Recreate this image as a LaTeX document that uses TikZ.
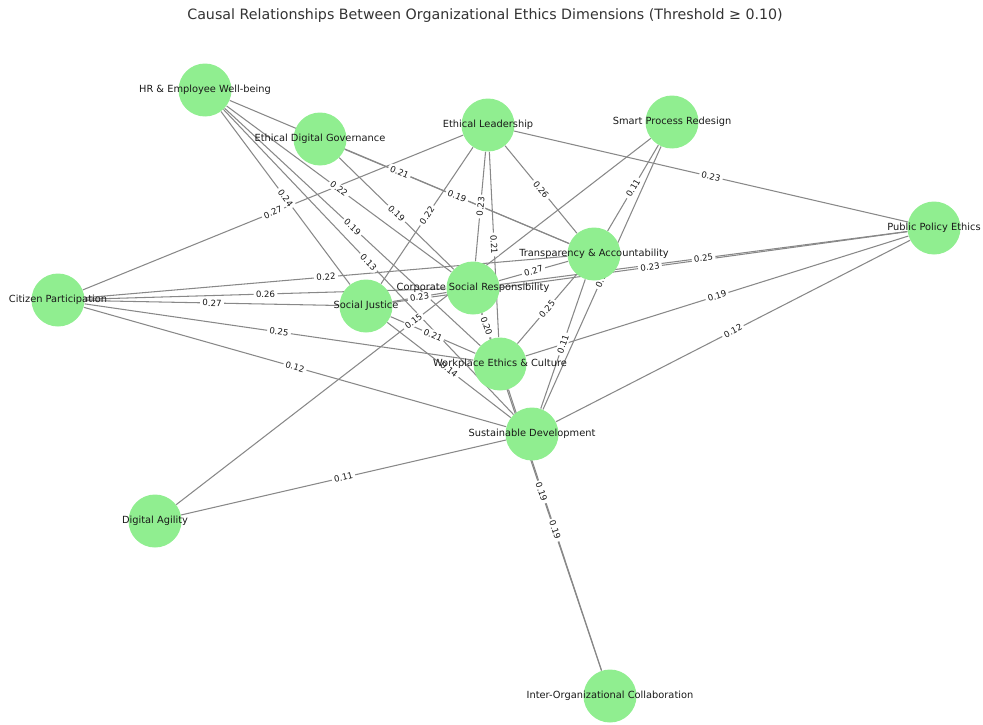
\documentclass[tikz,border=0pt]{standalone}
\usepackage{fontspec}
\setmainfont{DejaVu Sans}
\usepackage{xcolor}
\usepackage{tikz}
\usetikzlibrary{backgrounds}
\definecolor{nodegreen}{RGB}{144,238,144}
\definecolor{relgray}{RGB}{136,136,136}

\begin{document}
\begin{tikzpicture}[x=0.02cm,y=-0.02cm,
	dim/.style={circle,fill=nodegreen,minimum size=1.06cm,inner sep=0pt},
	nm/.style={font=\fontsize{5.6}{6}\selectfont,text=black!90},
	rel/.style={relgray,line width=0.6pt},
	wt/.style={midway,sloped,fill=white,text=black!90,rounded corners=1pt,inner xsep=1.3pt,inner ysep=0.9pt,font=\fontsize{4.9}{5}\selectfont}]
	\useasboundingbox (0,0) rectangle (983,724);
	\node[font=\fontsize{8.1}{9}\selectfont,text=black!80] (title) at (485,16) {Causal Relationships Between Organizational Ethics Dimensions (Threshold ≥ 0.10)};
	% dimensions
	\node[dim,label={[nm]center:HR \& Employee Well-being}] (hr) at (205,90) {};
	\node[dim,label={[nm]center:Ethical Digital Governance}] (edg) at (320,139) {};
	\node[dim,label={[nm]center:Ethical Leadership}] (el) at (488,125) {};
	\node[dim,label={[nm]center:Smart Process Redesign}] (spr) at (672,122) {};
	\node[dim,label={[nm]center:Public Policy Ethics}] (ppe) at (934,228) {};
	\node[dim,label={[nm]center:Transparency \& Accountability}] (ta) at (594,254) {};
	\node[dim,label={[nm]center:Citizen Participation}] (cp) at (58,300) {};
	\node[dim,label={[nm]center:Corporate Social Responsibility}] (csr) at (473,288) {};
	\node[dim,label={[nm]center:Social Justice}] (sj) at (366,306) {};
	\node[dim,label={[nm]center:Workplace Ethics \& Culture}] (wec) at (500,364) {};
	\node[dim,label={[nm]center:Sustainable Development}] (sd) at (532,434) {};
	\node[dim,label={[nm]center:Digital Agility}] (da) at (155,521) {};
	\node[dim,label={[nm]center:Inter-Organizational Collaboration}] (ioc) at (610,696) {};
	\begin{scope}[on background layer]
	% causal links
	\draw[rel] (hr) -- (ta);
	\draw[rel] (hr) -- (csr);
	\draw[rel] (hr) -- (sj);
	\draw[rel] (hr) -- (wec);
	\draw[rel] (hr) -- (sd);
	\draw[rel] (edg) -- (ta);
	\draw[rel] (edg) -- (csr);
	\draw[rel] (cp) -- (el);
	\draw[rel] (el) -- (sj);
	\draw[rel] (el) -- (csr);
	\draw[rel] (el) -- (wec);
	\draw[rel] (el) -- (ta);
	\draw[rel] (el) -- (ppe);
	\draw[rel] (spr) -- (ta);
	\draw[rel] (spr) -- (sd);
	\draw[rel] (da) -- (spr);
	\draw[rel] (cp) -- (ta);
	\draw[rel] (cp) -- (csr);
	\draw[rel] (cp) -- (sj);
	\draw[rel] (cp) -- (wec);
	\draw[rel] (cp) -- (sd);
	\draw[rel] (sj) -- (csr);
	\draw[rel] (csr) -- (ta);
	\draw[rel] (csr) -- (ppe);
	\draw[rel] (sj) -- (ppe);
	\draw[rel] (wec) -- (ppe);
	\draw[rel] (sd) -- (ppe);
	\draw[rel] (ta) -- (wec);
	\draw[rel] (ta) -- (sd);
	\draw[rel] (csr) -- (wec);
	\draw[rel] (sj) -- (wec);
	\draw[rel] (sj) -- (sd);
	\draw[rel] (ioc) -- (wec);
	\draw[rel] (ioc) -- (csr);
	\draw[rel] (da) -- (sd);
	% weights
	\path (hr) -- node[wt] {0.21} (ta);
	\path (hr) -- node[wt] {0.22} (csr);
	\path (hr) -- node[wt] {0.24} (sj);
	\path (hr) -- node[wt] {0.19} (wec);
	\path (hr) -- node[wt] {0.13} (sd);
	\path (edg) -- node[wt] {0.19} (ta);
	\path (edg) -- node[wt] {0.19} (csr);
	\path (cp) -- node[wt] {0.27} (el);
	\path (el) -- node[wt] {0.22} (sj);
	\path (el) -- node[wt] {0.23} (csr);
	\path (el) -- node[wt] {0.21} (wec);
	\path (el) -- node[wt] {0.26} (ta);
	\path (el) -- node[wt] {0.23} (ppe);
	\path (spr) -- node[wt] {0.11} (ta);
	\path (spr) -- node[wt] {0.12} (sd);
	\path (da) -- node[wt] {0.15} (spr);
	\path (cp) -- node[wt] {0.22} (ta);
	\path (cp) -- node[wt] {0.26} (csr);
	\path (cp) -- node[wt] {0.27} (sj);
	\path (cp) -- node[wt] {0.25} (wec);
	\path (cp) -- node[wt] {0.12} (sd);
	\path (sj) -- node[wt] {0.23} (csr);
	\path (csr) -- node[wt] {0.27} (ta);
	\path (csr) -- node[wt] {0.25} (ppe);
	\path (sj) -- node[wt] {0.23} (ppe);
	\path (wec) -- node[wt] {0.19} (ppe);
	\path (sd) -- node[wt] {0.12} (ppe);
	\path (ta) -- node[wt] {0.25} (wec);
	\path (ta) -- node[wt] {0.11} (sd);
	\path (csr) -- node[wt] {0.20} (wec);
	\path (sj) -- node[wt] {0.21} (wec);
	\path (sj) -- node[wt] {0.14} (sd);
	\path (ioc) -- node[wt] {0.19} (wec);
	\path (ioc) -- node[wt] {0.19} (csr);
	\path (da) -- node[wt] {0.11} (sd);
	\end{scope}
\end{tikzpicture}
\end{document}
